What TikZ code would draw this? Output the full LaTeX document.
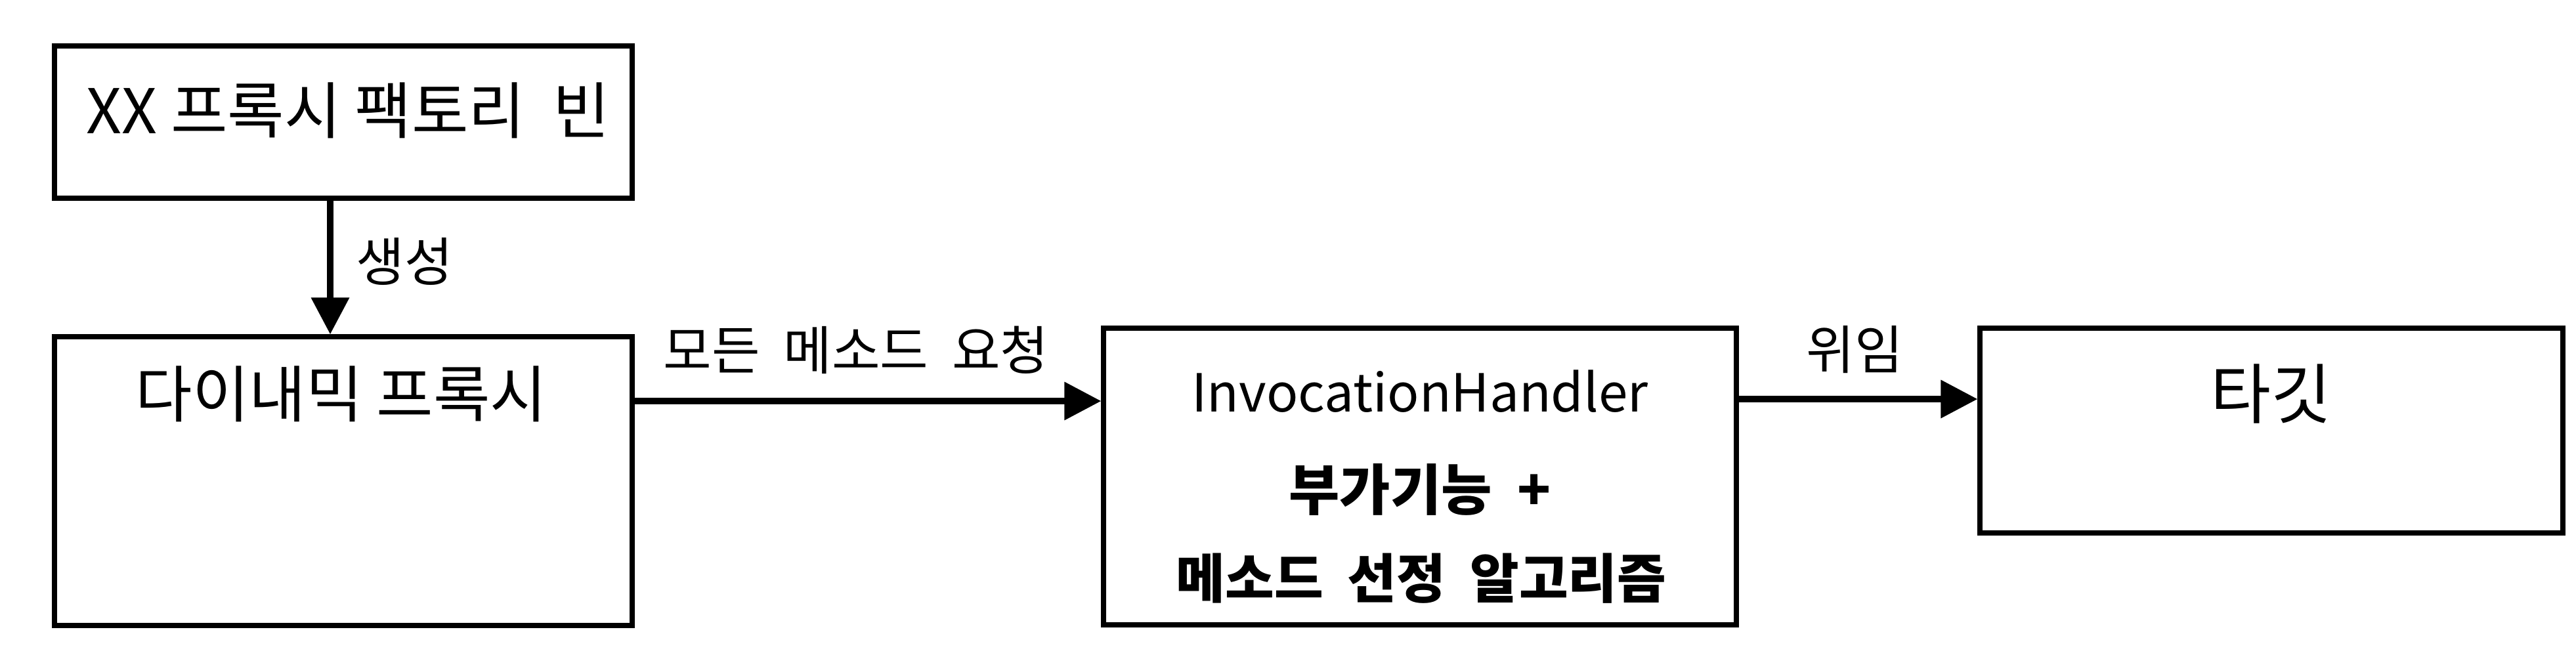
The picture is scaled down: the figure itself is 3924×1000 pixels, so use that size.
\documentclass[tikz,border=0pt]{standalone}
\usepackage{fontspec}
\setmainfont{Noto Sans CJK KR}
\usetikzlibrary{arrows.meta}
\tikzset{
  box/.style={draw=black, line width=1.8pt, rectangle, inner sep=0pt, fill=white},
  arr/.style={line width=2.5pt, -{Triangle[length=14pt, width=14pt]}},
  lbl/.style={inner sep=0pt, anchor=center},
}
\begin{document}
\begin{tikzpicture}[x=0.25pt, y=-0.25pt]
\useasboundingbox[fill=white] (0,0) rectangle (3924,1000);
% boxes
\node[box, minimum width=220pt, minimum height=58pt] (b1) at (523,186) {};
\node[box, minimum width=220pt, minimum height=110pt] (b2) at (523,733) {};
\node[box, minimum width=241pt, minimum height=113pt] (b3) at (2163,726) {};
\node[box, minimum width=222pt, minimum height=78pt] (b4) at (3460,656) {};
% texts
\node[lbl, font=\fontsize{23.5}{27}\selectfont] (t1) at (530,168) {XX 프록시 팩토리 \ 빈};
\node[lbl, font=\fontsize{23.5}{27}\selectfont] (t2) at (520,600) {다이내믹 프록시};
\node[lbl, font=\fontsize{20}{24}\selectfont] (t3a) at (2163,596) {InvocationHandler};
\node[lbl, font=\bfseries\fontsize{21}{25}\selectfont] (t3b) at (2163,746) {부가기능 \ +};
\node[lbl, font=\bfseries\fontsize{20.3}{24}\selectfont] (t3c) at (2165,881) {메소드 \ 선정 \ 알고리즘};
\node[lbl, font=\fontsize{25}{29}\selectfont] (t4) at (3459,600) {타깃};
% connectors
\coordinate (a1) at (503,0);
\coordinate (a2) at (0,611);
\coordinate (a3) at (0,608);
\draw[arr] (a1 |- b1.south) -- (a1 |- b2.north);
\draw[arr] (a2 -| b2.east) -- (a2 -| b3.west);
\draw[arr] (a3 -| b3.east) -- (a3 -| b4.west);
% connector labels
\node[lbl, font=\fontsize{20}{24}\selectfont] (l1) at (616,398) {생성};
\node[lbl, font=\fontsize{20}{24}\selectfont] (l2) at (1304,533) {모든 \ 메소드 \ 요청};
\node[lbl, font=\fontsize{20}{24}\selectfont] (l3) at (2825,533) {위임};
\end{tikzpicture}
\end{document}
